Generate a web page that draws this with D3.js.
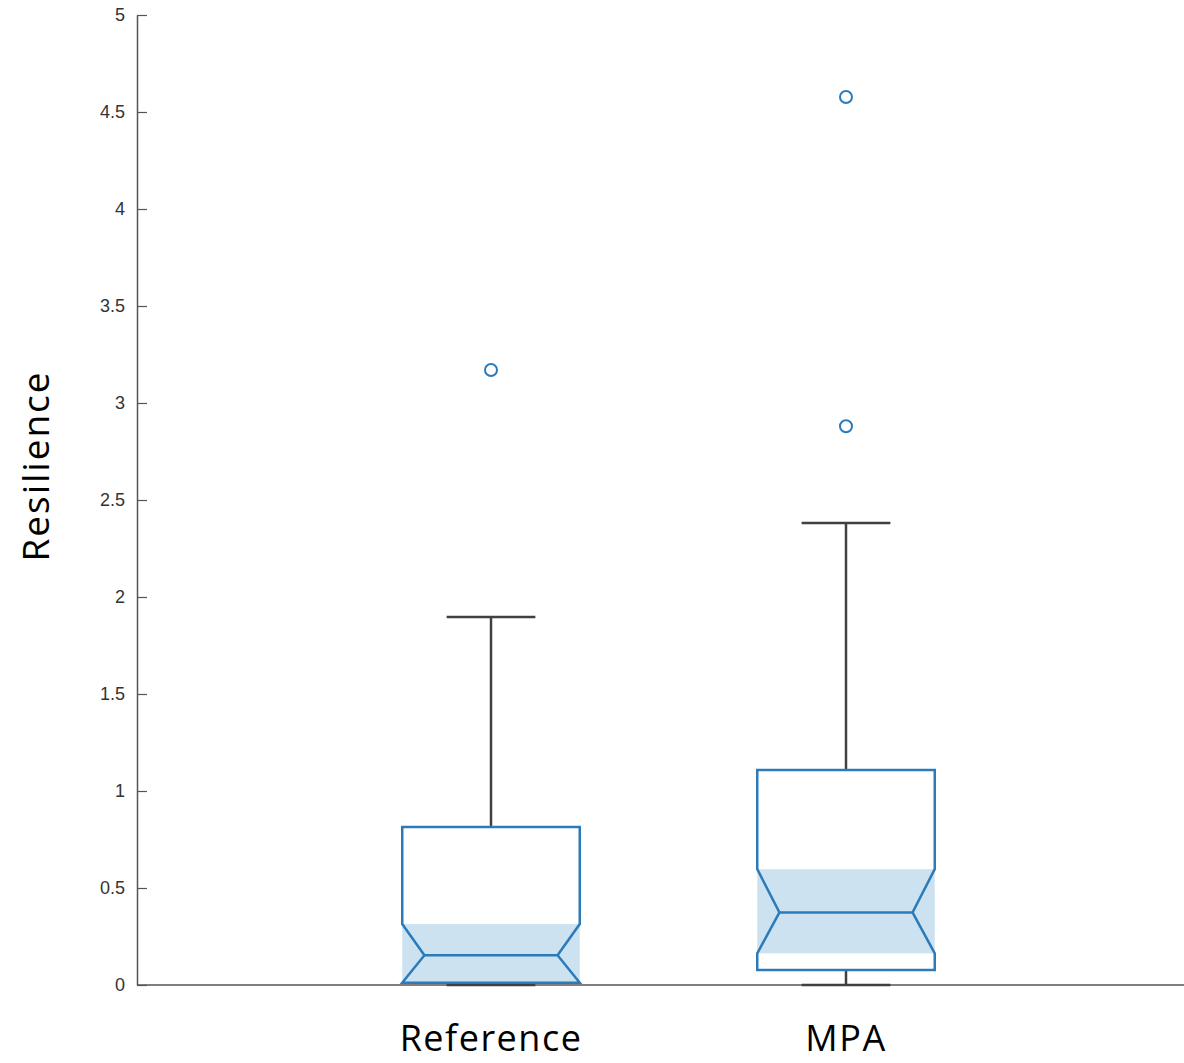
<!DOCTYPE html>
<html>
<head>
<meta charset="utf-8">
<script src="https://cdn.jsdelivr.net/npm/d3@7"></script>
<style>
  body { margin: 0; background: #fff; }
  svg { display: block; }
</style>
</head>
<body>
<div class="container"></div>
<script>
// groups and box statistics
var groups = ["Reference", "MPA"];
var q1 = [0.012, 0.077];
var medians = [0.153, 0.374];
var q3 = [0.814, 1.108];
var notchLo = [0.012, 0.163];
var notchHi = [0.314, 0.597];
var whiskerLo = [0, 0];
var whiskerHi = [1.897, 2.381];
var outliers = [[3.17], [2.88, 4.577]];
var yTicks = [0, 0.5, 1, 1.5, 2, 2.5, 3, 3.5, 4, 4.5, 5];

var w = 1184, h = 1063;
var boxColor = "#2b7bba", fillColor = "#cde2f1", whiskColor = "#404040";
var labelFont = "'Open Sans', Lato, sans-serif";

var svg = d3.select(".container")
  .append("svg")
  .attr("width", w)
  .attr("height", h);

var y = d3.scaleLinear().domain([0, 5]).range([985, 15]);
// group index -> x position
var x = d3.scaleLinear().domain([1, 2]).range([491, 846]);
var halfBox = x(1.25) - x(1);
var halfNotch = halfBox * 0.75;
var halfCap = halfBox * 0.5;

// y axis
var yAxis = d3.axisLeft(y)
  .tickValues(yTicks)
  .tickFormat(d3.format("~g"))
  .tickSizeInner(-10)
  .tickSizeOuter(0)
  .tickPadding(12);
var ya = svg.append("g")
  .attr("class", "yaxis")
  .attr("transform", "translate(137,0)")
  .call(yAxis);
ya.select(".domain").attr("stroke", "#555").attr("stroke-width", 1.5);
ya.selectAll(".tick line").attr("stroke", "#555").attr("stroke-width", 1.2);
ya.selectAll(".tick text")
  .attr("fill", "#333")
  .style("font-family", "Liberation Sans, Arial, sans-serif")
  .style("font-size", "18px");

// x axis line only, labels below
var xa = svg.append("g")
  .attr("class", "xaxis")
  .attr("transform", "translate(0,985)");
xa.append("line")
  .attr("x1", 137).attr("x2", w)
  .attr("stroke", "#555").attr("stroke-width", 1.5);
xa.selectAll("text")
  .data(groups)
  .enter()
  .append("text")
  .attr("x", function(d, i) { return x(i + 1); })
  .attr("y", 66)
  .attr("text-anchor", "middle")
  .style("font-family", labelFont)
  .style("font-size", "36px")
  .style("letter-spacing", "1.5px")
  .attr("fill", "#000")
  .text(function(d) { return d; });

// y label
svg.append("text")
  .attr("transform", "translate(49,466) rotate(-90)")
  .attr("text-anchor", "middle")
  .style("font-family", labelFont)
  .style("font-size", "37px")
  .style("letter-spacing", "2px")
  .attr("fill", "#000")
  .text("Resilience");

var idx = d3.range(groups.length);
var boxes = svg.selectAll(".box")
  .data(idx)
  .enter()
  .append("g")
  .attr("class", "box");

// shaded notch band
boxes.append("rect")
  .attr("x", function(i) { return x(i + 1) - halfBox; })
  .attr("y", function(i) { return y(notchHi[i]); })
  .attr("width", halfBox * 2)
  .attr("height", function(i) { return y(notchLo[i]) - y(notchHi[i]); })
  .attr("fill", fillColor);

// whiskers
boxes.append("line")
  .attr("x1", function(i) { return x(i + 1); })
  .attr("x2", function(i) { return x(i + 1); })
  .attr("y1", function(i) { return y(q3[i]); })
  .attr("y2", function(i) { return y(whiskerHi[i]); })
  .attr("stroke", whiskColor).attr("stroke-width", 2.5);
boxes.append("line")
  .attr("x1", function(i) { return x(i + 1); })
  .attr("x2", function(i) { return x(i + 1); })
  .attr("y1", function(i) { return y(q1[i]); })
  .attr("y2", function(i) { return y(whiskerLo[i]); })
  .attr("stroke", whiskColor).attr("stroke-width", 2.5);
// caps
boxes.append("line")
  .attr("x1", function(i) { return x(i + 1) - halfCap; })
  .attr("x2", function(i) { return x(i + 1) + halfCap; })
  .attr("y1", function(i) { return y(whiskerHi[i]); })
  .attr("y2", function(i) { return y(whiskerHi[i]); })
  .attr("stroke", whiskColor).attr("stroke-width", 2.5);
boxes.append("line")
  .attr("x1", function(i) { return x(i + 1) - halfCap; })
  .attr("x2", function(i) { return x(i + 1) + halfCap; })
  .attr("y1", function(i) { return y(whiskerLo[i]); })
  .attr("y2", function(i) { return y(whiskerLo[i]); })
  .attr("stroke", whiskColor).attr("stroke-width", 2.5);

// notched box outline
boxes.append("path")
  .attr("d", function(i) {
    var c = x(i + 1), l = c - halfBox, r = c + halfBox;
    var nl = c - halfNotch, nr = c + halfNotch;
    var p = d3.path();
    p.moveTo(l, y(q3[i]));
    p.lineTo(l, y(notchHi[i]));
    p.lineTo(nl, y(medians[i]));
    p.lineTo(l, y(notchLo[i]));
    p.lineTo(l, y(q1[i]));
    p.lineTo(r, y(q1[i]));
    p.lineTo(r, y(notchLo[i]));
    p.lineTo(nr, y(medians[i]));
    p.lineTo(r, y(notchHi[i]));
    p.lineTo(r, y(q3[i]));
    p.closePath();
    return p.toString();
  })
  .attr("fill", "none")
  .attr("stroke", boxColor)
  .attr("stroke-width", 2.5)
  .attr("stroke-linejoin", "miter");

// median
boxes.append("line")
  .attr("x1", function(i) { return x(i + 1) - halfNotch; })
  .attr("x2", function(i) { return x(i + 1) + halfNotch; })
  .attr("y1", function(i) { return y(medians[i]); })
  .attr("y2", function(i) { return y(medians[i]); })
  .attr("stroke", boxColor).attr("stroke-width", 2.5);

// outliers
var outData = [];
outliers.forEach(function(arr, i) {
  arr.forEach(function(v) { outData.push({g: i, v: v}); });
});
svg.selectAll(".outlier")
  .data(outData)
  .enter()
  .append("circle")
  .attr("class", "outlier")
  .attr("cx", function(d) { return x(d.g + 1); })
  .attr("cy", function(d) { return y(d.v); })
  .attr("r", 6)
  .attr("fill", "none")
  .attr("stroke", boxColor)
  .attr("stroke-width", 2);
</script>
</body>
</html>
